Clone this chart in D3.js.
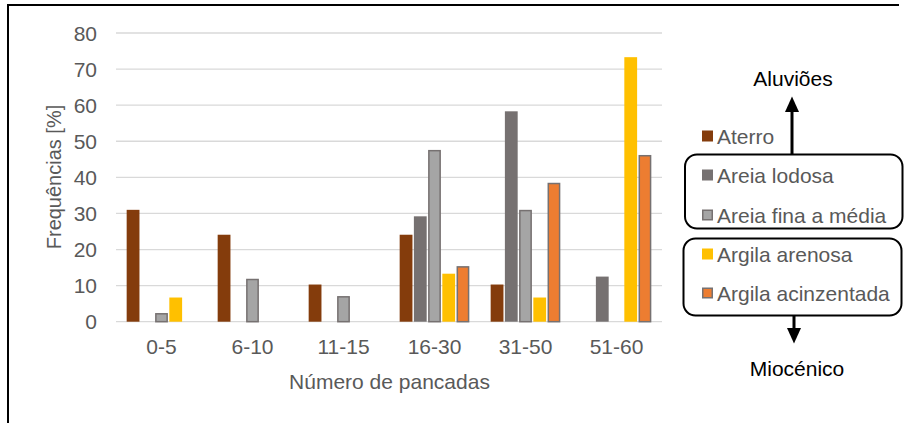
<!DOCTYPE html>
<html>
<head>
<meta charset="utf-8">
<script src="https://cdn.jsdelivr.net/npm/d3@7"></script>
<style>
  html, body { margin: 0; padding: 0; background: #fff; }
  svg { display: block; }
  text { font-family: "Liberation Sans", Arial, sans-serif; }
</style>
</head>
<body>
<svg id="chart" width="909" height="423"></svg>
<script>
// Classes of blow counts (SPT)
const categories = ["0-5", "6-10", "11-15", "16-30", "31-50", "51-60"];

// Soil layers shown in the legend
const seriesNames = ["Aterro", "Areia lodosa", "Areia fina a média", "Argila arenosa", "Argila acinzentada"];

// Frequencies [%] per class, one array per layer
const aterro            = [31.0, 24.1, 10.3, 24.1, 10.3, 0];
const areiaLodosa       = [0, 0, 0, 29.2, 58.3, 12.5];
const areiaFina         = [2.4, 11.9, 7.1, 47.6, 31.0, 0];
const argilaArenosa     = [6.7, 0, 0, 13.3, 6.7, 73.3];
const argilaAcinzentada = [0, 0, 0, 15.4, 38.5, 46.2];

const yTicks = [0, 10, 20, 30, 40, 50, 60, 70, 80];

const seriesValues = [aterro, areiaLodosa, areiaFina, argilaArenosa, argilaAcinzentada];
const fills   = ["#843c0c", "#767171", "#a5a5a5", "#ffc000", "#ed7d31"];
const strokes = [null, null, "#767171", null, "#767171"];

const svg = d3.select("#chart");
const textColor = "#595959";
const fs = 21;

// Outer frame (left and top edges)
svg.append("path")
  .attr("d", "M8,423 L8,5 L899,5")
  .attr("fill", "none").attr("stroke", "#000").attr("stroke-width", 2);

const plot = { left: 116, right: 662, top: 33, bottom: 321.7 };

const x0 = d3.scaleBand().domain(categories).range([plot.left, plot.right]).padding(0);
const x1 = d3.scaleBand().domain(seriesNames).range([0, x0.bandwidth()])
  .paddingInner(0.1).paddingOuter(0.75);
const y = d3.scaleLinear().domain([0, 80]).range([plot.bottom, plot.top]);

// Gridlines
svg.append("g").selectAll("line").data(yTicks).join("line")
  .attr("x1", plot.left).attr("x2", plot.right)
  .attr("y1", d => y(d)).attr("y2", d => y(d))
  .attr("stroke", "#d9d9d9").attr("stroke-width", 1.3);

// Y tick labels
svg.append("g").selectAll("text").data(yTicks).join("text")
  .attr("x", 97).attr("y", d => y(d))
  .attr("dy", "0.36em")
  .attr("text-anchor", "end")
  .attr("font-size", fs).attr("fill", textColor)
  .text(d => d);

// Category labels
svg.append("g").selectAll("text").data(categories).join("text")
  .attr("x", d => x0(d) + x0.bandwidth() / 2).attr("y", 346)
  .attr("dy", "0.36em")
  .attr("text-anchor", "middle")
  .attr("font-size", fs).attr("fill", textColor)
  .text(d => d);

// Axis titles
svg.append("text")
  .attr("x", 389.5).attr("y", 381).attr("dy", "0.36em")
  .attr("text-anchor", "middle").attr("font-size", fs).attr("fill", textColor)
  .text("Número de pancadas");

svg.append("text")
  .attr("transform", "translate(54,177) rotate(-90)")
  .attr("dy", "0.36em")
  .attr("text-anchor", "middle").attr("font-size", 20).attr("fill", textColor)
  .text("Frequências [%]");

// Bars
const barData = [];
seriesValues.forEach((vals, si) => {
  vals.forEach((v, ci) => {
    if (v > 0) barData.push({ s: si, cat: categories[ci], v });
  });
});

svg.append("g").selectAll("rect").data(barData).join("rect")
  .attr("x", d => x0(d.cat) + x1(seriesNames[d.s]) + (strokes[d.s] ? 0.75 : 0))
  .attr("y", d => y(d.v) + (strokes[d.s] ? 0.75 : 0))
  .attr("width", d => x1.bandwidth() - (strokes[d.s] ? 1.5 : 0))
  .attr("height", d => y(0) - y(d.v) - (strokes[d.s] ? 0.75 : 0))
  .attr("fill", d => fills[d.s])
  .attr("stroke", d => strokes[d.s] || "none")
  .attr("stroke-width", 1.5);

// Legend
const legendY = [136, 175, 215, 254, 293];
const legend = svg.append("g");
seriesNames.forEach((name, i) => {
  legend.append("rect")
    .attr("x", 702 + (strokes[i] ? 0.75 : 0)).attr("y", legendY[i] - 5.5 + (strokes[i] ? 0.75 : 0))
    .attr("width", strokes[i] ? 9.5 : 11).attr("height", strokes[i] ? 9.5 : 11)
    .attr("fill", fills[i])
    .attr("stroke", strokes[i] || "none").attr("stroke-width", 1.5);
  legend.append("text")
    .attr("x", 717).attr("y", legendY[i]).attr("dy", "0.36em")
    .attr("font-size", fs).attr("fill", textColor)
    .text(name);
});

// Grouping boxes
svg.append("rect").attr("x", 685).attr("y", 154.5).attr("width", 217.5).attr("height", 74)
  .attr("rx", 12).attr("fill", "none").attr("stroke", "#000").attr("stroke-width", 2);
svg.append("rect").attr("x", 683.5).attr("y", 238.5).attr("width", 218).attr("height", 77)
  .attr("rx", 12).attr("fill", "none").attr("stroke", "#000").attr("stroke-width", 2);

// Arrows
svg.append("line").attr("x1", 792).attr("x2", 792).attr("y1", 154).attr("y2", 110)
  .attr("stroke", "#000").attr("stroke-width", 3);
svg.append("path").attr("d", "M792,96.5 L785,112 L799,112 Z").attr("fill", "#000");

svg.append("line").attr("x1", 794).attr("x2", 794).attr("y1", 316).attr("y2", 330)
  .attr("stroke", "#000").attr("stroke-width", 3);
svg.append("path").attr("d", "M794,343.5 L787,328 L801,328 Z").attr("fill", "#000");

svg.append("text").attr("x", 793).attr("y", 78).attr("dy", "0.36em")
  .attr("text-anchor", "middle").attr("font-size", fs).attr("fill", "#000")
  .text("Aluviões");
svg.append("text").attr("x", 797).attr("y", 368).attr("dy", "0.36em")
  .attr("text-anchor", "middle").attr("font-size", fs).attr("fill", "#000")
  .text("Miocénico");
</script>
</body>
</html>
